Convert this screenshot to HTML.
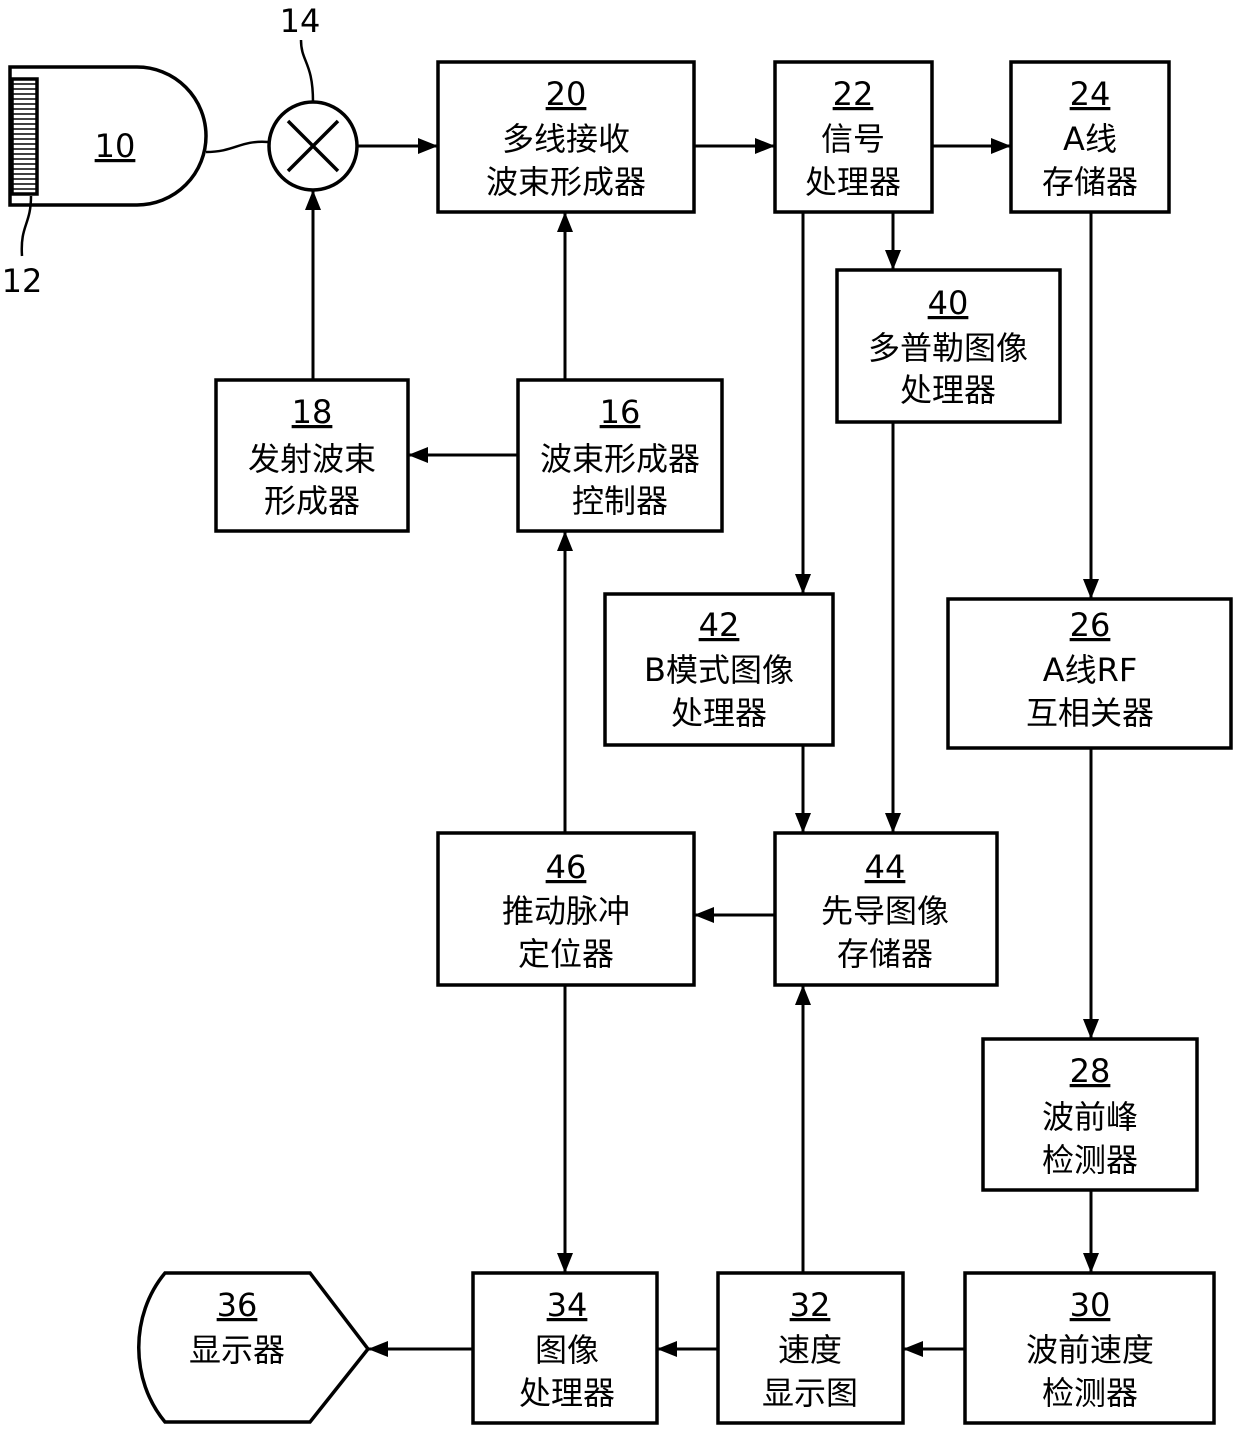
<!DOCTYPE html>
<html><head><meta charset="utf-8"><style>
html,body{margin:0;padding:0;background:#fff;}
svg{display:block}
text{font-family:"DejaVu Sans","Noto Sans CJK SC",sans-serif;font-size:32px;fill:#000;text-anchor:middle}
.n{text-decoration:underline}
</style></head><body>
<svg width="1240" height="1434" viewBox="0 0 1240 1434" xmlns="http://www.w3.org/2000/svg">
<defs><marker id="b" markerWidth="20" markerHeight="16" refX="20" refY="8" orient="auto" markerUnits="userSpaceOnUse"><path d="M0,0 L20,8 L0,16 z" fill="#000"/></marker></defs>
<g fill="none" stroke="#000" stroke-width="3.5">
<path d="M10,67 H137 A69,69 0 0 1 137,205 H10 Z"/>
<rect x="12" y="79" width="25" height="115" fill="#fff"/>
<path d="M12,84 H37 M12,89 H37 M12,94 H37 M12,99 H37 M12,104 H37 M12,109 H37 M12,114 H37 M12,119 H37 M12,124 H37 M12,129 H37 M12,134 H37 M12,139 H37 M12,144 H37 M12,149 H37 M12,154 H37 M12,159 H37 M12,164 H37 M12,169 H37 M12,174 H37 M12,179 H37 M12,184 H37 M12,189 H37" stroke-width="1.5"/>
<path d="M31,196 C31,225 20,225 22,256" stroke-width="2.5"/>
<path d="M206,152 C235,152 240,140 268,142" stroke-width="2.5"/>
<circle cx="313" cy="146" r="44"/>
<path d="M288,121 L338,171 M338,121 L288,171"/>
<path d="M301,40 C301,62 313,62 313,102" stroke-width="2.5"/>
<rect x="438" y="62" width="256" height="150"/>
<rect x="775" y="62" width="157" height="150"/>
<rect x="1011" y="62" width="158" height="150"/>
<rect x="837" y="270" width="223" height="152"/>
<rect x="216" y="380" width="192" height="151"/>
<rect x="518" y="380" width="204" height="151"/>
<rect x="605" y="594" width="228" height="151"/>
<rect x="948" y="599" width="283" height="149"/>
<rect x="438" y="833" width="256" height="152"/>
<rect x="775" y="833" width="222" height="152"/>
<rect x="983" y="1039" width="214" height="151"/>
<rect x="473" y="1273" width="184" height="150"/>
<rect x="718" y="1273" width="185" height="150"/>
<rect x="965" y="1273" width="249" height="150"/>
<path d="M165,1273 H310 L368,1349 L310,1422 H165 C130,1380 130,1315 165,1273 Z"/>
<g marker-end="url(#b)" stroke-width="3">
<path d="M357,146 H438"/><path d="M694,146 H775"/><path d="M932,146 H1011"/>
<path d="M313,380 V190"/><path d="M565,380 V212"/><path d="M518,455 H408"/>
<path d="M803,212 V594"/><path d="M893,212 V270"/><path d="M893,422 V833"/>
<path d="M803,745 V833"/><path d="M1091,212 V599"/><path d="M1091,748 V1039"/>
<path d="M1091,1190 V1273"/><path d="M965,1349 H903"/><path d="M718,1349 H657"/>
<path d="M473,1349 H368"/><path d="M803,1273 V985"/><path d="M775,915 H694"/>
<path d="M565,833 V531"/><path d="M565,985 V1273"/>
</g></g>
<text x="115" y="157" class="n">10</text>
<text x="22" y="292">12</text>
<text x="300" y="32">14</text>
<text x="566" y="105" class="n">20</text><text x="566" y="150">多线接收</text><text x="566" y="193">波束形成器</text>
<text x="853" y="105" class="n">22</text><text x="853" y="150">信号</text><text x="853" y="193">处理器</text>
<text x="1090" y="105" class="n">24</text><text x="1090" y="150">A线</text><text x="1090" y="193">存储器</text>
<text x="948" y="314" class="n">40</text><text x="948" y="359">多普勒图像</text><text x="948" y="401">处理器</text>
<text x="312" y="423" class="n">18</text><text x="312" y="470">发射波束</text><text x="312" y="512">形成器</text>
<text x="620" y="423" class="n">16</text><text x="620" y="470">波束形成器</text><text x="620" y="512">控制器</text>
<text x="719" y="636" class="n">42</text><text x="719" y="681">B模式图像</text><text x="719" y="724">处理器</text>
<text x="1090" y="636" class="n">26</text><text x="1090" y="681">A线RF</text><text x="1090" y="724">互相关器</text>
<text x="566" y="878" class="n">46</text><text x="566" y="922">推动脉冲</text><text x="566" y="965">定位器</text>
<text x="885" y="878" class="n">44</text><text x="885" y="922">先导图像</text><text x="885" y="965">存储器</text>
<text x="1090" y="1082" class="n">28</text><text x="1090" y="1128">波前峰</text><text x="1090" y="1171">检测器</text>
<text x="237" y="1316" class="n">36</text><text x="237" y="1361">显示器</text>
<text x="567" y="1316" class="n">34</text><text x="567" y="1361">图像</text><text x="567" y="1404">处理器</text>
<text x="810" y="1316" class="n">32</text><text x="810" y="1361">速度</text><text x="810" y="1404">显示图</text>
<text x="1090" y="1316" class="n">30</text><text x="1090" y="1361">波前速度</text><text x="1090" y="1404">检测器</text>
</svg>
</body></html>
